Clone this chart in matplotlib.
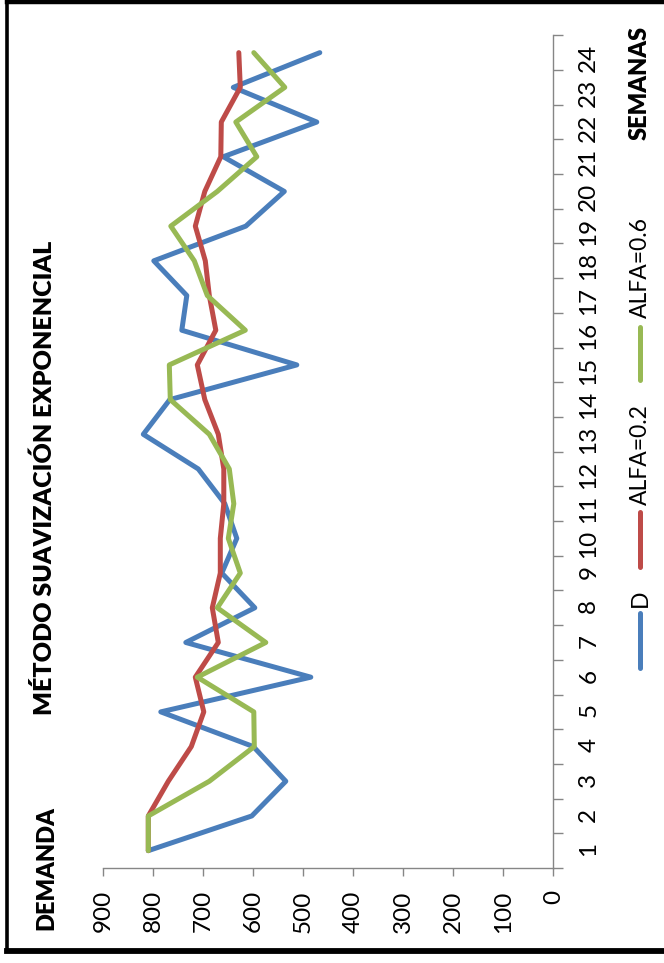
import matplotlib
matplotlib.use("Agg")
import matplotlib.pyplot as plt
from matplotlib.lines import Line2D

plt.rcParams['font.family'] = ['Lato', 'DejaVu Sans']

# ---------------- data ----------------
semanas = list(range(1, 25))
demanda = [810, 603, 535, 600, 785, 485, 735, 597, 663, 633, 657, 710,
           820, 767, 513, 743, 733, 799, 615, 538, 660, 473, 640, 467]
alfa_02 = [810, 810, 770, 724, 699, 716, 670, 682, 666, 666, 659, 659,
           670, 697, 712, 675, 688, 696, 716, 697, 665, 664, 626, 629]
alfa_06 = [810, 810, 688, 598, 599, 712, 575, 672, 626, 650, 639, 648,
           688, 766, 768, 616, 692, 718, 765, 672, 593, 635, 537, 599]
valor_ticks = list(range(0, 1000, 100))
series_names = ['D', 'ALFA=0.2', 'ALFA=0.6']
colors = ['#4A7EBB', '#BE4B48', '#98B954']

W, H = 664, 963
fx = lambda px: px / W
fy = lambda py: 1 - py / H

fig = plt.figure(figsize=(W / 100, H / 100), dpi=100)
fig.patch.set_facecolor('white')

# plot area (rotated chart: demand horizontal, weeks vertical)
x_left, x_right = 103.3, 553.3
y_top, y_bot = 35.3, 868.0
ax = fig.add_axes([fx(x_left), fy(y_bot), fx(x_right) - fx(x_left), fy(y_top) - fy(y_bot)])

lw = 3.6
for vals, c in zip([demanda, alfa_02, alfa_06], colors):
    ax.plot(vals, semanas, color=c, lw=lw, solid_capstyle='round',
            solid_joinstyle='round', clip_on=False)

ax.set_xlim(900, 0)
ax.set_ylim(0.5, 24.5)

grey = '#868686'
for s in ['top', 'left']:
    ax.spines[s].set_visible(False)
for s in ['bottom', 'right']:
    ax.spines[s].set_color(grey)
    ax.spines[s].set_linewidth(1.0)

# value axis
ax.set_xticks(valor_ticks)
ax.set_xticklabels([str(v) for v in valor_ticks], rotation=90, fontsize=17.5)
ax.tick_params(axis='x', direction='out', length=6, width=1, color=grey, pad=10)

# category axis on the right
ax.yaxis.tick_right()
ax.set_yticks(semanas)
ax.set_yticklabels([str(s) for s in semanas], rotation=90, fontsize=17.5)
ax.set_yticks([s - 0.5 for s in semanas] + [24.5], minor=True)
ax.tick_params(axis='y', which='major', length=0, pad=18)
ax.tick_params(axis='y', which='minor', direction='out', length=7, width=1, color=grey)
ax.tick_params(axis='y', which='both', left=False, right=True)

# titles
fig.text(fx(44), fy(478), 'MÉTODO SUAVIZACIÓN EXPONENCIAL', rotation=90,
         ha='center', va='center', fontsize=18, fontweight='heavy')
fig.text(fx(46), fy(868), 'DEMANDA', rotation=90,
         ha='center', va='center', fontsize=17, fontweight='heavy')
fig.text(fx(640), fy(83), 'SEMANAS', rotation=90,
         ha='center', va='center', fontsize=17, fontweight='heavy')

# legend (rotated, drawn manually)
leg_x = 640
legend_items = [(613, 668, 607), (512, 567, 505), (327, 380, 318)]
for name, c, (l0, l1, tb) in zip(series_names, colors, legend_items):
    fig.add_artist(Line2D([fx(leg_x), fx(leg_x)], [fy(l1), fy(l0)], color=c, lw=lw,
                          solid_capstyle='round', transform=fig.transFigure))
    fig.text(fx(leg_x), fy(tb), name, rotation=90, ha='center', va='bottom', fontsize=16.5)

# outer frame
def frame_line(x0, y0, x1, y1, w):
    fig.add_artist(Line2D([fx(x0), fx(x1)], [fy(y0), fy(y1)], color='black', lw=w,
                          transform=fig.transFigure, solid_capstyle='projecting'))

frame_line(6.5, 2.5, 680, 2.5, 3.2)
frame_line(6.5, 2.5, 6.5, 951, 2.6)
frame_line(6.5, 951, 680, 951, 4.2)

fig.savefig('out.png', dpi=100, facecolor='white')
